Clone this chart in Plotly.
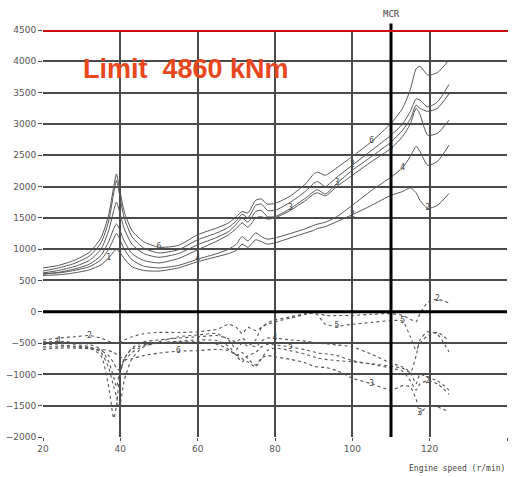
import plotly.graph_objects as go

# Engine speed (r/min)
speed = [20, 24, 28, 32, 35, 37, 38.3, 39, 39.7, 41, 43, 46, 50, 55, 60, 65, 68, 70, 71.5, 73,
         75, 76.5, 78, 80, 84, 88, 90, 91, 93, 96, 100, 105, 110, 113, 115, 116.5, 117.5, 119.5, 122, 125]

# Upper (solid) torque curves, kNm
up_1 = [700, 740, 820, 950, 1180, 1550, 2000, 2200, 2000, 1600, 1300, 1120, 1030, 1060, 1230, 1340, 1420, 1520, 1600, 1580,
        1780, 1800, 1720, 1730, 1850, 2050, 2200, 2230, 2180, 2300, 2480, 2720, 3010, 3250, 3550, 3880, 3920, 3780, 3820, 4020]
up_2 = [650, 700, 770, 890, 1100, 1450, 1900, 2100, 1900, 1500, 1200, 1020, 940, 990, 1150, 1260, 1350, 1450, 1560, 1500,
        1700, 1720, 1620, 1620, 1750, 1930, 2050, 2080, 2000, 2150, 2340, 2580, 2820, 3000, 3200, 3400, 3380, 3270, 3350, 3630]
up_3 = [620, 660, 720, 820, 1000, 1300, 1620, 1750, 1620, 1330, 1080, 930, 870, 930, 1070, 1190, 1280, 1400, 1500, 1430,
        1600, 1620, 1520, 1520, 1650, 1820, 1920, 1950, 1880, 2050, 2260, 2480, 2710, 2900, 3080, 3300, 3250, 3200, 3250, 3480]
up_4 = [600, 630, 680, 760, 900, 1120, 1330, 1400, 1330, 1130, 930, 820, 780, 850, 990, 1130, 1230, 1330, 1420, 1350,
        1500, 1520, 1480, 1500, 1620, 1780, 1880, 1900, 1850, 2000, 2180, 2400, 2610, 2800, 3000, 3250, 3150, 2820, 2850, 3060]
up_5 = [610, 620, 660, 720, 830, 1000, 1170, 1250, 1180, 1000, 830, 730, 700, 740, 840, 930, 1000, 1080, 1200, 1130,
        1260, 1200, 1160, 1180, 1250, 1330, 1380, 1400, 1430, 1520, 1700, 1940, 2150, 2300, 2480, 2640, 2560, 2340, 2400, 2660]
up_6 = [580, 590, 620, 670, 750, 860, 960, 1000, 960, 850, 720, 660, 650, 700, 800, 880, 930, 980, 1080, 1030,
        1150, 1120, 1080, 1100, 1180, 1260, 1300, 1330, 1360, 1440, 1550, 1700, 1860, 1920, 1980, 1900, 1780, 1650, 1700, 1890]

# Lower (dashed) torque curves, kNm
lo_1 = [-450, -420, -400, -380, -420, -470, -500, -510, -500, -450, -400, -350, -330, -330, -320, -280, -200, -250, -350, -250,
        -300, -250, -180, -130, -80, -30, -10, -20, -60, -60, -60, -40, -30, -60, -120, -160, -30, 150, 200, 140]
lo_2 = [-480, -490, -520, -560, -650, -900, -1200, -1350, -1550, -1100, -750, -560, -480, -400, -370, -350, -450, -600, -500, -550,
        -450, -250, -200, -160, -100, -40, -20, -50, -200, -230, -200, -170, -140, -150, -400, -610, -500, -380, -330, -460]
lo_3 = [-520, -530, -550, -580, -700, -1200, -1700, -1500, -1100, -750, -600, -530, -500, -480, -480, -520, -600, -700, -650, -750,
        -850, -740, -700, -720, -760, -820, -870, -880, -890, -940, -1060, -1150, -1250, -1180, -1200, -1400, -1620, -1500, -1520, -1600]
lo_4 = [-500, -470, -490, -520, -600, -800, -1050, -1200, -1000, -750, -580, -480, -450, -420, -400, -380, -430, -480, -420, -500,
        -560, -470, -420, -420, -450, -470, -490, -500, -510, -530, -560, -680, -820, -880, -970, -1150, -1000, -1050, -1100, -1250]
lo_5 = [-560, -560, -560, -580, -620, -700, -820, -900, -930, -800, -650, -550, -500, -470, -450, -460, -550, -700, -800, -700,
        -650, -560, -520, -530, -560, -610, -640, -660, -670, -700, -780, -840, -900, -950, -1100, -1250, -1150, -1100, -1150, -1320]
lo_6 = [-600, -580, -580, -590, -600, -620, -650, -680, -700, -760, -750, -700, -660, -630, -620, -600, -620, -680, -750, -800,
        -880, -750, -620, -580, -620, -680, -720, -740, -760, -780, -800, -830, -870, -900, -970, -700, -450, -320, -360, -640]

# curve number labels: (series name, index into speed, label)
curve_labels = [("up_1", 12, "6"), ("up_1", 31, "6"), ("up_2", 30, "2"), ("up_3", 29, "3"),
                ("up_4", 32, "5"), ("up_5", 33, "4"), ("up_6", 37, "2"), ("up_6", 30, "2"),
                ("up_5", 14, "4"), ("up_6", 5, "1"), ("up_3", 24, "3"),
                ("lo_1", 3, "2"), ("lo_2", 33, "5"), ("lo_2", 29, "5"), ("lo_4", 1, "4"),
                ("lo_6", 13, "6"), ("lo_3", 36, "3"), ("lo_3", 31, "3"), ("lo_4", 23, "4"),
                ("lo_5", 37, "2"), ("lo_1", 38, "2"), ("lo_5", 24, "5")]

x_ticks = [20, 40, 60, 80, 100, 120, 140]
y_ticks = [4500, 4000, 3500, 3000, 2500, 2000, 1500, 1000, 500, 0, -500, -1000, -1500, -2000]
limit_line = 4500
mcr_speed = 110

series = {"up_1": up_1, "up_2": up_2, "up_3": up_3, "up_4": up_4, "up_5": up_5, "up_6": up_6,
          "lo_1": lo_1, "lo_2": lo_2, "lo_3": lo_3, "lo_4": lo_4, "lo_5": lo_5, "lo_6": lo_6}

fig = go.Figure()
for name in ["up_1", "up_2", "up_3", "up_4", "up_5", "up_6"]:
    fig.add_trace(go.Scatter(x=speed, y=series[name], mode="lines",
                             line=dict(color="#555555", width=1, shape="spline", smoothing=0.6),
                             hoverinfo="skip"))
for name in ["lo_1", "lo_2", "lo_3", "lo_4", "lo_5", "lo_6"]:
    fig.add_trace(go.Scatter(x=speed, y=series[name], mode="lines",
                             line=dict(color="#555555", width=1.1, dash="dot", shape="spline", smoothing=0.6),
                             hoverinfo="skip"))

fig.add_trace(go.Scatter(
    x=[speed[i] for _, i, _ in curve_labels],
    y=[series[n][i] for n, i, _ in curve_labels],
    text=[t for _, _, t in curve_labels],
    mode="text", textposition="middle center",
    textfont=dict(family="DejaVu Sans Mono", size=8, color="#444444"),
    hoverinfo="skip"))

# zero line
fig.add_shape(type="line", xref="paper", x0=0, x1=1, yref="y", y0=0, y1=0,
              line=dict(color="black", width=3))
# MCR line
fig.add_shape(type="line", xref="x", x0=mcr_speed, x1=mcr_speed, yref="paper", y0=0, y1=1.016,
              line=dict(color="black", width=3))
# limit line
fig.add_shape(type="line", xref="paper", x0=0, x1=1.002, yref="y", y0=limit_line, y1=limit_line,
              line=dict(color="#cc1010", width=4))

fig.add_annotation(text="MCR", x=mcr_speed, xref="x", y=1.056, yref="paper", showarrow=False,
                   font=dict(family="DejaVu Sans Mono", size=9, color="#444444"))
fig.add_annotation(text="Limit  4860 kNm", x=0.082, xref="paper", xanchor="left",
                   y=0.905, yref="paper", yanchor="middle", showarrow=False,
                   font=dict(family="Liberation Sans", size=27, color="#e8461c", weight="bold"))
fig.add_annotation(text="Engine speed (r/min)", x=1.0, xref="paper", xanchor="right",
                   y=-0.077, yref="paper", yanchor="middle", showarrow=False,
                   font=dict(family="DejaVu Sans Mono", size=8, color="#444444"))

fig.update_layout(
    width=513, height=477,
    margin=dict(l=39, r=6, t=30, b=40),
    paper_bgcolor="white", plot_bgcolor="white",
    showlegend=False,
    xaxis=dict(range=[20, 140], tickvals=x_ticks, showgrid=True, gridcolor="#4a4a4a", gridwidth=1.5,
               zeroline=False, showline=False, ticks="outside", ticklen=3, tickcolor="#4a4a4a",
               tickfont=dict(family="DejaVu Sans", size=9, color="#555555")),
    yaxis=dict(range=[-2000, 4500], tickvals=y_ticks, showgrid=True, gridcolor="#4a4a4a", gridwidth=1.5,
               zeroline=False, showline=False, ticks="outside", ticklen=4, tickcolor="#4a4a4a",
               tickfont=dict(family="DejaVu Sans", size=9, color="#555555")),
)

fig.write_html("out.html")
